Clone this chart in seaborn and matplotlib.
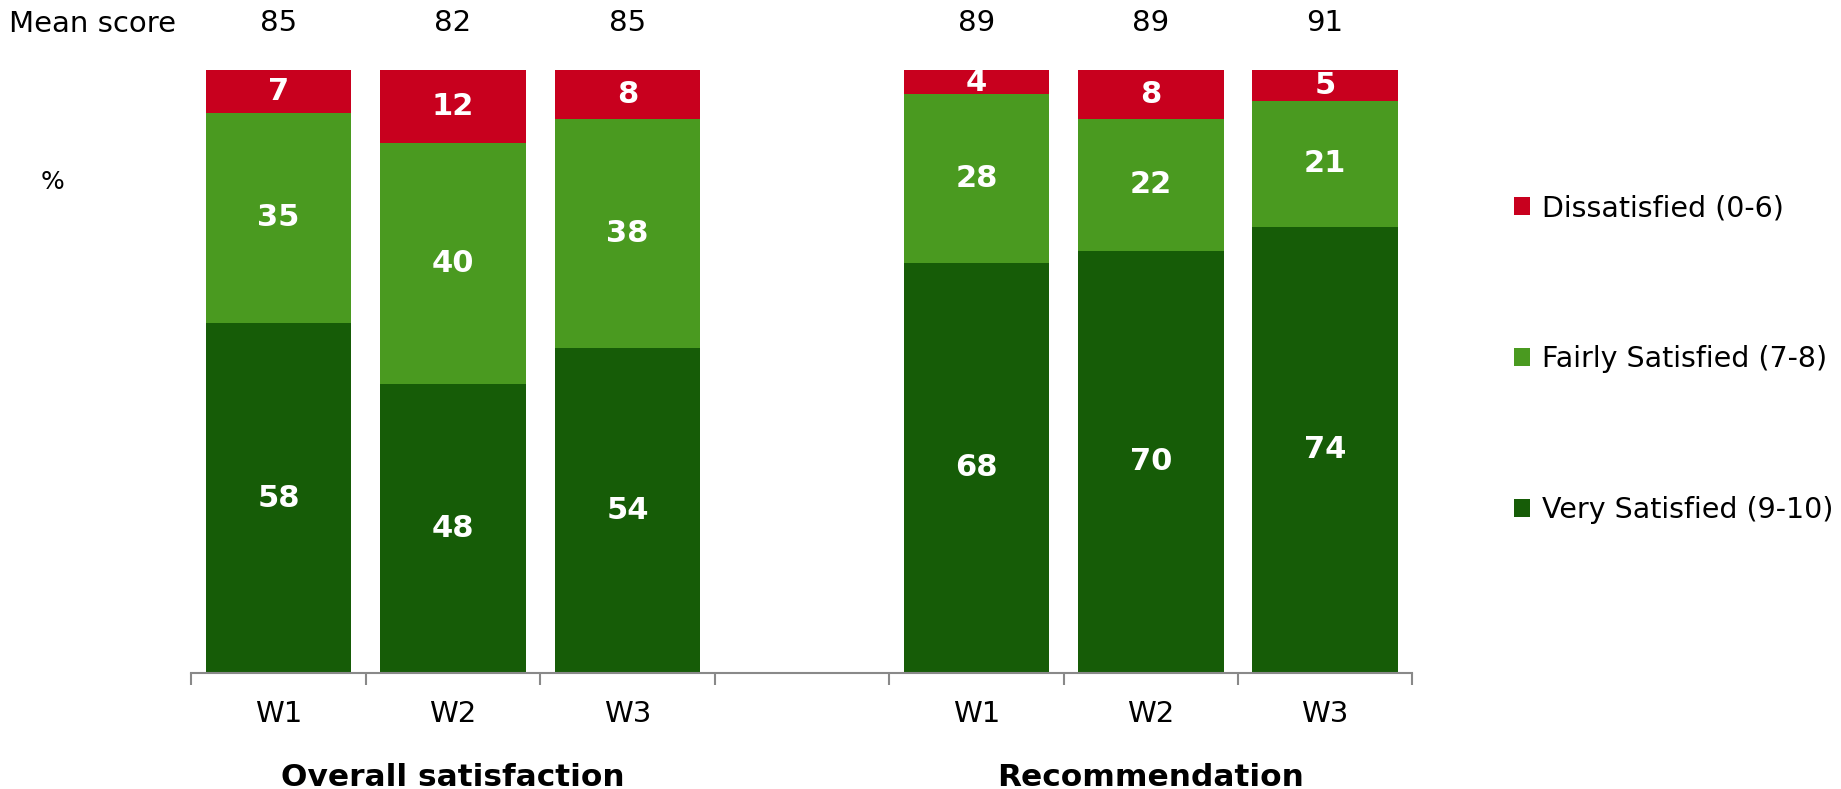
import numpy as np
import pandas as pd
import matplotlib
matplotlib.use("Agg")
import matplotlib.pyplot as plt
import seaborn as sns
from matplotlib.patches import Patch

# Survey results by wave (percent of respondents)
groups = ["Overall satisfaction", "Recommendation"]
waves = ["W1", "W2", "W3", "W1", "W2", "W3"]
slots = [0, 1, 2, 4, 5, 6]
very_satisfied = [58, 48, 54, 68, 70, 74]
fairly_satisfied = [35, 40, 38, 28, 22, 21]
dissatisfied = [7, 12, 8, 4, 8, 5]
mean_score = [85, 82, 85, 89, 89, 91]

series_names = ["Dissatisfied (0-6)", "Fairly Satisfied (7-8)", "Very Satisfied (9-10)"]
colors = {"Dissatisfied (0-6)": "#C8001E",
          "Fairly Satisfied (7-8)": "#4A9A20",
          "Very Satisfied (9-10)": "#165C07"}

df = pd.DataFrame({
    "slot": slots,
    "wave": waves,
    "very": very_satisfied,
    "fairly": fairly_satisfied,
    "dis": dissatisfied,
})
df["cum_fairly"] = df["very"] + df["fairly"]
df["cum_dis"] = df["cum_fairly"] + df["dis"]

sns.set_theme(style="white")
plt.rcParams["font.family"] = ["DejaVu Sans"]
plt.rcParams["text.color"] = "black"

W, H = 1841, 789
fig = plt.figure(figsize=(W / 100, H / 100), dpi=100)
left, right, top, bottom = 191.4, 1412.4, 70.4, 672.8
ax = fig.add_axes([left / W, 1 - bottom / H, (right - left) / W, (bottom - top) / H])

bw = 0.835
# stacked bars drawn as overlapping cumulative totals
for col, name in [("cum_dis", series_names[0]), ("cum_fairly", series_names[1]), ("very", series_names[2])]:
    sns.barplot(data=df, x="slot", y=col, native_scale=True, color=colors[name],
                saturation=1, width=bw, errorbar=None, ax=ax, linewidth=0)

ax.set_xlim(-0.5, 6.5)
ax.set_ylim(0, 100)
ax.set_xlabel("")
ax.set_ylabel("")

# segment labels
for _, r in df.iterrows():
    for base, val in [(0, r["very"]), (r["very"], r["fairly"]), (r["cum_fairly"], r["dis"])]:
        ax.text(r["slot"], base + val / 2, f"{val}", ha="center", va="center",
                color="white", fontsize=22, fontweight="bold")

# mean scores above bars
for s, m in zip(slots, mean_score):
    ax.text(s, 107.8, f"{m}", ha="center", va="center", fontsize=21, color="black", clip_on=False)
fig.text(9.4 / W, 1 - 23.5 / H, "Mean score", ha="left", va="center", fontsize=21, color="black")

# wave labels and group labels
for s, w in zip(slots, waves):
    ax.text(s, -6.8, w, ha="center", va="center", fontsize=21, color="black", clip_on=False)
for cx, g in zip([1, 5], groups):
    ax.text(cx, -17.3, g, ha="center", va="center", fontsize=22.5, fontweight="bold",
            color="black", clip_on=False)

ax.text(-1.295, 81.5, "%", ha="center", va="center", fontsize=18, color="black", clip_on=False)

# axis styling
for sp in ["top", "right", "left"]:
    ax.spines[sp].set_visible(False)
ax.spines["bottom"].set_color("#898989")
ax.spines["bottom"].set_linewidth(1.5)
ax.set_yticks([])
ax.set_xticks(np.arange(-0.5, 7, 1))
ax.set_xticklabels([])
ax.tick_params(axis="x", direction="out", length=8.5, width=1.5, color="#898989", bottom=True)

handles = [Patch(facecolor=colors[n], edgecolor="none", label=n) for n in series_names]
leg = fig.legend(handles=handles, loc="upper left", bbox_to_anchor=(1514 / W, 1 - 194 / H),
                 frameon=False, fontsize=20.5, handlelength=0.57, handleheight=0.57,
                 handletextpad=0.4, labelspacing=4.32, borderpad=0, borderaxespad=0)
for t in leg.get_texts():
    t.set_color("black")

fig.savefig("out.png", dpi=100)
